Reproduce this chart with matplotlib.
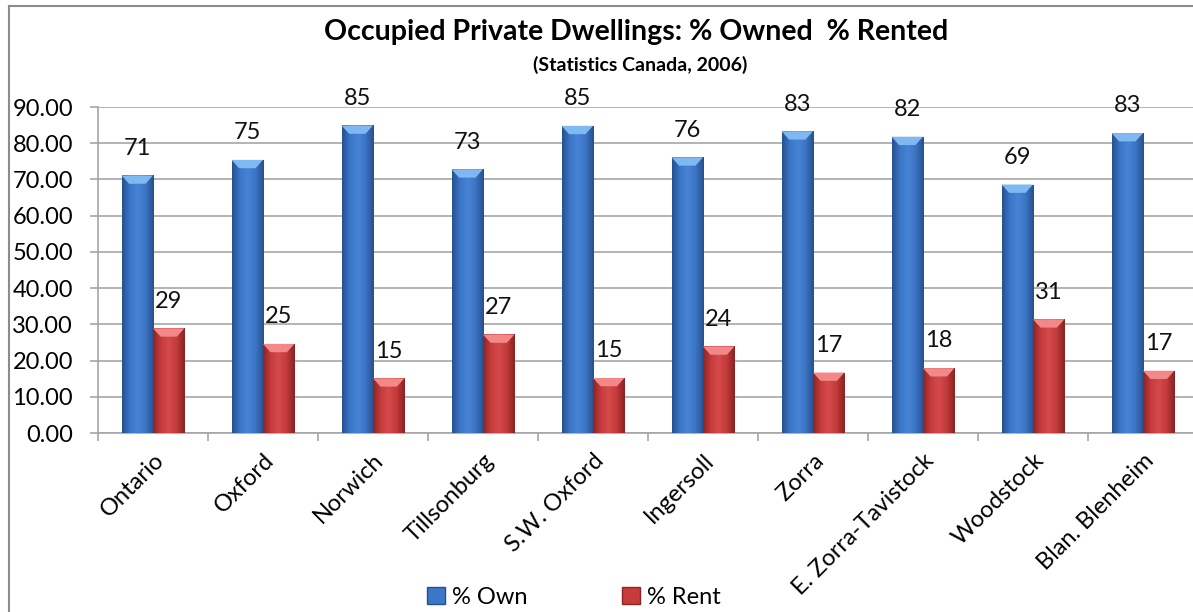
import numpy as np
import matplotlib
matplotlib.use("Agg")
import matplotlib.pyplot as plt
from matplotlib.colors import LinearSegmentedColormap
from matplotlib.patches import Polygon, Patch
from matplotlib.lines import Line2D

plt.rcParams['font.family'] = ['Lato', 'DejaVu Sans']

places = ['Ontario', 'Oxford', 'Norwich', 'Tillsonburg', 'S.W. Oxford', 'Ingersoll',
          'Zorra', 'E. Zorra-Tavistock', 'Woodstock', 'Blan. Blenheim']
own = [71.1, 75.4, 84.9, 72.8, 84.8, 76.1, 83.3, 81.8, 68.6, 82.8]
rent = [28.9, 24.6, 15.1, 27.2, 15.2, 23.9, 16.7, 17.9, 31.4, 17.2]
yticks = [0, 10, 20, 30, 40, 50, 60, 70, 80, 90]

# side-to-side shading of each column, plus colour of the bevelled cap
styles = {
    'own': (['#26518f', '#3b76c8', '#4784d6', '#3b74c4', '#28508c'], '#80b8f2'),
    'rent': (['#8e2424', '#c63c3b', '#d54a4a', '#c23a39', '#8a2222'], '#f28888'),
}

W, H = 1193, 612
fig = plt.figure(figsize=(W / 100, H / 100), dpi=100)
ax = fig.add_axes([98 / W, 1 - 433 / H, 1100 / W, (433 - 107) / H])

x = np.arange(len(places))
w = 1 / 3.5


def shaded_bars(xs, vals, key, label):
    colors, cap = styles[key]
    cmap = LinearSegmentedColormap.from_list(key, colors)
    bars = ax.bar(xs, vals, w, color=colors[2], label=label, zorder=3)
    grad = np.linspace(0, 1, 64).reshape(1, -1)
    for b, v in zip(bars, vals):
        x0 = b.get_x()
        x1 = x0 + b.get_width()
        im = ax.imshow(grad, cmap=cmap, aspect='auto', extent=(x0, x1, 0, v),
                       zorder=3.1, interpolation='bicubic')
        im.set_clip_path(b)
        # bevel at the top of the column
        d = 2.3
        inset = b.get_width() * 0.24
        ax.add_patch(Polygon([(x0, v), (x1, v), (x1 - inset, v - d), (x0 + inset, v - d)],
                             closed=True, color=cap, lw=0, zorder=3.2))
        ax.annotate(f'{v:.0f}', (x0 + b.get_width() / 2, v), xytext=(0, 12),
                    textcoords='offset points', ha='center', va='bottom',
                    fontsize=17, color='#111111')
    return bars


shaded_bars(x - w / 2, own, 'own', '% Own')
shaded_bars(x + w / 2, rent, 'rent', '% Rent')

ax.set_xlim(-0.5, len(places) - 0.5)
ax.set_ylim(0, 90)
ax.set_yticks(yticks)
ax.set_yticklabels([f'{t:.2f}' for t in yticks], fontsize=17)
ax.yaxis.grid(True, color='#b3b3b3', lw=1.4, zorder=0)
ax.set_axisbelow(True)

ax.set_xticks(x)
ax.set_xticklabels(places, rotation=45, ha='right', rotation_mode='anchor', fontsize=17)
ax.set_xticks(np.arange(len(places) + 1) - 0.5, minor=True)
ax.tick_params(axis='x', which='major', length=0, pad=12)
ax.tick_params(axis='x', which='minor', length=6, color='#a6a6a6', width=1.2)
ax.tick_params(axis='y', length=6, color='#a6a6a6', width=1.2, pad=12)

for s in ['top', 'right']:
    ax.spines[s].set_visible(False)
for s in ['left', 'bottom']:
    ax.spines[s].set_color('#a6a6a6')
    ax.spines[s].set_linewidth(1.2)

fig.text(636 / W, 1 - 32 / H, 'Occupied Private Dwellings: % Owned  % Rented',
         ha='center', va='center', fontsize=20.5, fontweight='bold')
fig.text(640 / W, 1 - 65 / H, '(Statistics Canada, 2006)',
         ha='center', va='center', fontsize=14, fontweight='bold')

handles = [Patch(facecolor='#3b76c8', edgecolor='#26518f'),
           Patch(facecolor='#c63c3b', edgecolor='#8e2424')]
fig.legend(handles, ['% Own', '% Rent'], loc='center', bbox_to_anchor=(574 / W, 1 - 597 / H),
           ncol=2, frameon=False, fontsize=17, handlelength=0.75, handleheight=0.75,
           handletextpad=0.3, columnspacing=4.0, borderaxespad=0, borderpad=0)

# chart frame (left and top edges)
fig.add_artist(Line2D([9 / W, 9 / W], [0, 1 - 6 / H], transform=fig.transFigure,
                      color='#8c8c8c', lw=1.5))
fig.add_artist(Line2D([9 / W, 1], [1 - 6 / H, 1 - 6 / H], transform=fig.transFigure,
                      color='#8c8c8c', lw=1.5))

fig.savefig('out.png', dpi=100)
